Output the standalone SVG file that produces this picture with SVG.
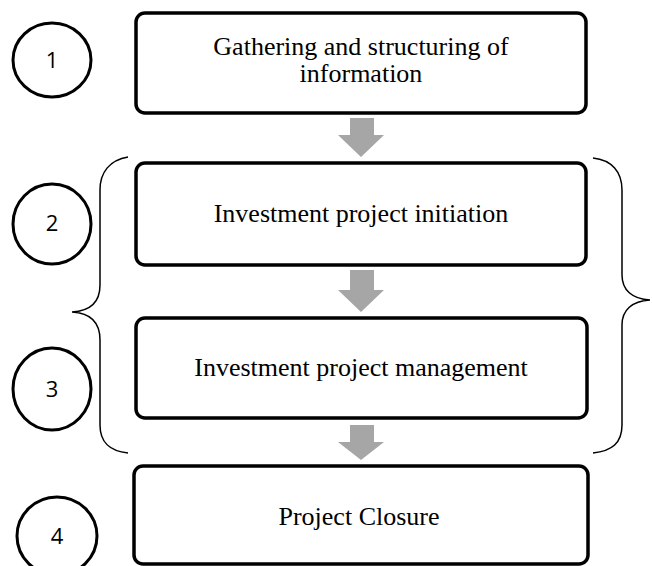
<svg xmlns="http://www.w3.org/2000/svg" width="652" height="566" viewBox="0 0 652 566">
<style>
.box{fill:#fff;stroke:#000;stroke-width:3.5}
.circ{fill:#fff;stroke:#000;stroke-width:3}
.lbl{font-family:"Liberation Serif","Times New Roman",serif;font-size:26px;fill:#000;text-anchor:middle}
.num{font-family:"Open Sans","Noto Sans",sans-serif;font-size:22px;fill:#000;text-anchor:middle}
.arr{fill:#a6a6a6}
.brace{fill:none;stroke:#000;stroke-width:1.5}
</style>
<rect width="652" height="566" fill="#fff"/>
<g id="braces">
<path class="brace" d="M128,157 C110,160 100,172 100,190 L100,285 C100,302 90,311 72,312 C90,313 100,322 100,340 L100,425 C100,443 110,451 128,453"/>
<path class="brace" d="M593,158 C612,160 622,172 622,190 L622,275 C622,290 632,299 650,300 C632,301 622,310 622,325 L622,425 C622,443 612,451 593,453"/>
</g>
<g id="connectors">
<polygon class="arr" points="350,118 374,118 374,135 384,135 361,157 338,135 350,135"/>
<polygon class="arr" points="350,270 374,270 374,290 384,290 361,312 338,290 350,290"/>
<polygon class="arr" points="350,425 374,425 374,442 384,442 361,460 338,442 350,442"/>
</g>
<g id="step1">
<ellipse class="circ" cx="52" cy="60" rx="39" ry="37"/>
<text class="num" x="52" y="68">1</text>
<rect class="box" x="136" y="13" width="450" height="100" rx="9"/>
<text class="lbl" x="361" y="55">Gathering and structuring of</text>
<text class="lbl" x="361" y="82">information</text>
</g>
<g id="step2">
<ellipse class="circ" cx="52" cy="224" rx="39" ry="40"/>
<text class="num" x="52" y="231">2</text>
<rect class="box" x="136" y="163" width="450" height="102" rx="9"/>
<text class="lbl" x="361" y="222">Investment project initiation</text>
</g>
<g id="step3">
<ellipse class="circ" cx="52" cy="389" rx="39" ry="41"/>
<text class="num" x="52" y="397">3</text>
<rect class="box" x="136" y="318" width="451" height="100" rx="9"/>
<text class="lbl" x="361" y="376">Investment project management</text>
</g>
<g id="step4">
<ellipse class="circ" cx="57" cy="536" rx="40" ry="39"/>
<text class="num" x="57" y="544">4</text>
<rect class="box" x="134" y="466" width="454" height="98" rx="9"/>
<text class="lbl" x="359" y="525">Project Closure</text>
</g>
</svg>
